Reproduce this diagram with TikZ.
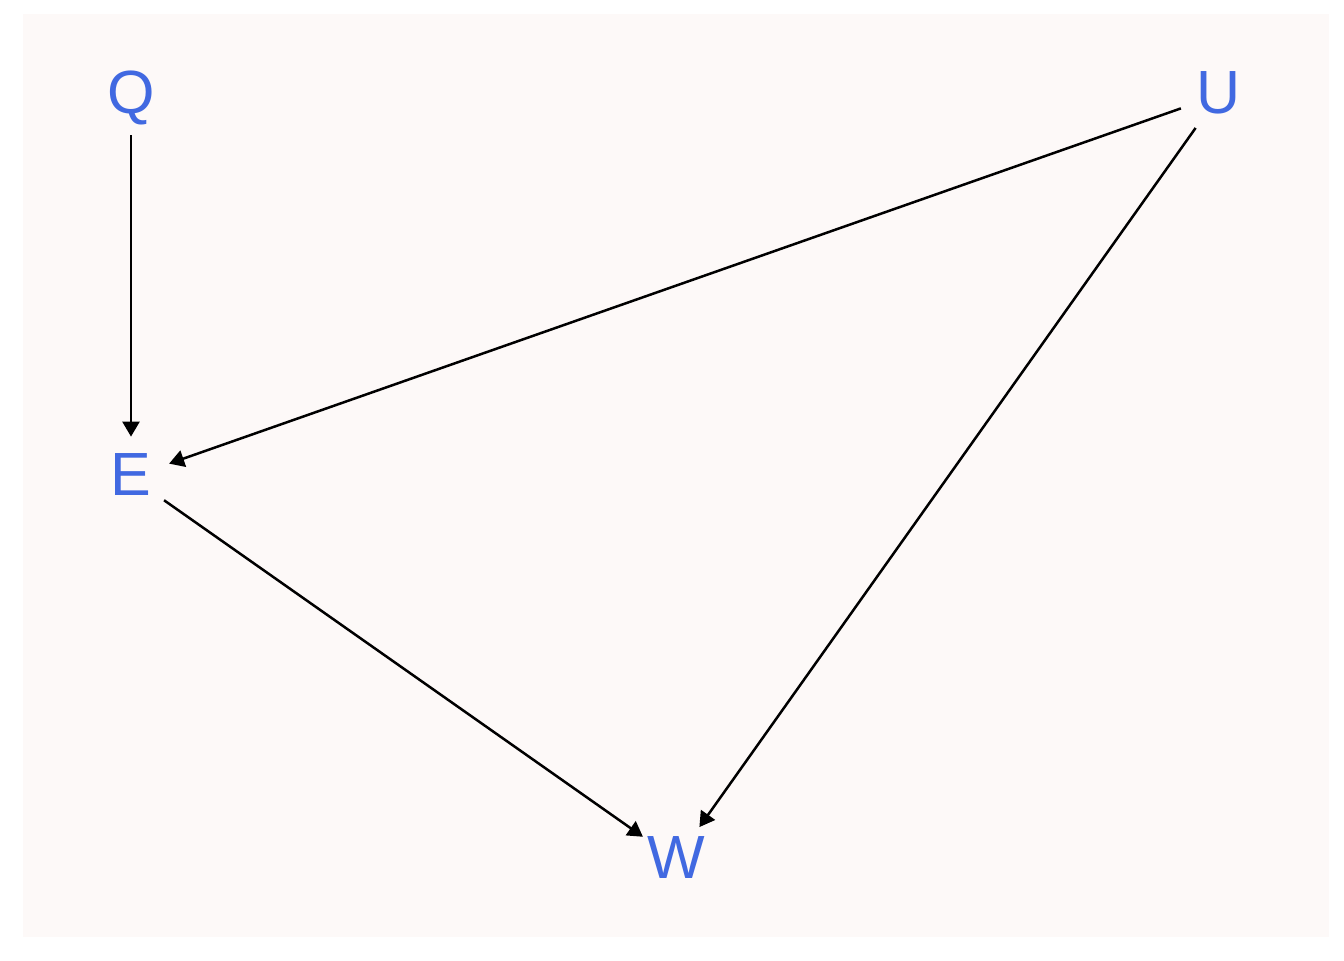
\documentclass[tikz,border=0pt]{standalone}
\usepackage{fontspec}
\setmainfont{Liberation Sans}
\usepackage{tikz}
\usetikzlibrary{arrows.meta,positioning}
\definecolor{panelbg}{RGB}{253,249,248}
\definecolor{varblue}{RGB}{65,105,225}

\begin{document}
\begin{tikzpicture}[
  x=0.5pt, y=-0.5pt,
  var/.style={
    circle, minimum size=40pt, inner sep=0pt,
    text height=18pt, text depth=0pt,
    text=varblue, font=\fontsize{30.5}{30.5}\selectfont
  },
  arrow/.style={-{Triangle[length=7.5pt,width=8.5pt]}, line width=1.25pt, draw=black}
]
% Background panel
\useasboundingbox (0,0) rectangle (1344,960);
\fill[panelbg] (23,14) rectangle (1329,937);
% Variables
\node[var] (Q) at (131,95)  {Q};
\node[var] (U) at (1219,95) {U};
\node[var] (E) at (131,477) {E};
\node[var] (W) at (676,860) {W};
% Arrows
\draw[arrow] (Q) -- (E);
\draw[arrow] (U) -- (E);
\draw[arrow] (E) -- (W);
\draw[arrow] (U) -- (W);
\end{tikzpicture}
\end{document}
